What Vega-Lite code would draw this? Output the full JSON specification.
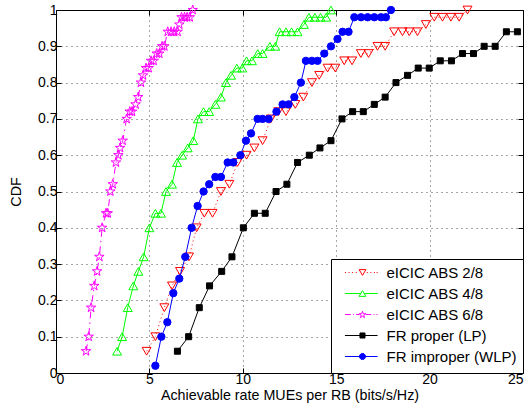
{
  "$schema": "https://vega.github.io/schema/vega-lite/v6.json",
  "width": 467,
  "height": 363,
  "autosize": {"type": "none"},
  "padding": {"left": 56, "top": 10, "right": 9, "bottom": 41},
  "background": "white",
  "config": {
    "view": {"stroke": null},
    "axis": {
      "domainColor": "#000000", "tickColor": "#000000", "labelColor": "#000000", "titleColor": "#000000",
      "labelFont": "Liberation Sans", "titleFont": "Liberation Sans", "labelFontSize": 14, "titleFontSize": 14.3,
      "titleFontWeight": "normal", "gridColor": "#000000", "gridDash": [1, 4], "gridOpacity": 0.7, "gridWidth": 1,
      "tickSize": -5, "domainWidth": 1, "tickWidth": 1
    }
  },
  "data": {"values": [
    {"s": "eICIC ABS 2/8", "x": 4.85, "y": 0.06}, {"s": "eICIC ABS 2/8", "x": 5.32, "y": 0.10}, {"s": "eICIC ABS 2/8", "x": 5.8, "y": 0.18}, {"s": "eICIC ABS 2/8", "x": 6.21, "y": 0.24}, {"s": "eICIC ABS 2/8", "x": 6.64, "y": 0.28}, {"s": "eICIC ABS 2/8", "x": 7.12, "y": 0.32}, {"s": "eICIC ABS 2/8", "x": 7.53, "y": 0.40}, {"s": "eICIC ABS 2/8", "x": 7.94, "y": 0.44}, {"s": "eICIC ABS 2/8", "x": 8.38, "y": 0.44}, {"s": "eICIC ABS 2/8", "x": 8.83, "y": 0.50}, {"s": "eICIC ABS 2/8", "x": 9.28, "y": 0.52}, {"s": "eICIC ABS 2/8", "x": 9.72, "y": 0.58}, {"s": "eICIC ABS 2/8", "x": 10.2, "y": 0.60}, {"s": "eICIC ABS 2/8", "x": 10.62, "y": 0.62}, {"s": "eICIC ABS 2/8", "x": 11.06, "y": 0.64}, {"s": "eICIC ABS 2/8", "x": 11.5, "y": 0.70}, {"s": "eICIC ABS 2/8", "x": 11.9, "y": 0.72}, {"s": "eICIC ABS 2/8", "x": 12.31, "y": 0.72}, {"s": "eICIC ABS 2/8", "x": 12.81, "y": 0.74}, {"s": "eICIC ABS 2/8", "x": 13.24, "y": 0.76}, {"s": "eICIC ABS 2/8", "x": 13.7, "y": 0.80}, {"s": "eICIC ABS 2/8", "x": 14.09, "y": 0.82}, {"s": "eICIC ABS 2/8", "x": 14.54, "y": 0.84}, {"s": "eICIC ABS 2/8", "x": 14.95, "y": 0.84}, {"s": "eICIC ABS 2/8", "x": 15.43, "y": 0.86}, {"s": "eICIC ABS 2/8", "x": 15.85, "y": 0.86}, {"s": "eICIC ABS 2/8", "x": 16.32, "y": 0.88}, {"s": "eICIC ABS 2/8", "x": 16.73, "y": 0.88}, {"s": "eICIC ABS 2/8", "x": 17.21, "y": 0.90}, {"s": "eICIC ABS 2/8", "x": 17.62, "y": 0.90}, {"s": "eICIC ABS 2/8", "x": 18.1, "y": 0.94}, {"s": "eICIC ABS 2/8", "x": 18.55, "y": 0.94}, {"s": "eICIC ABS 2/8", "x": 18.91, "y": 0.94}, {"s": "eICIC ABS 2/8", "x": 19.35, "y": 0.94}, {"s": "eICIC ABS 2/8", "x": 19.8, "y": 0.96}, {"s": "eICIC ABS 2/8", "x": 20.25, "y": 0.98}, {"s": "eICIC ABS 2/8", "x": 20.69, "y": 0.98}, {"s": "eICIC ABS 2/8", "x": 21.14, "y": 0.98}, {"s": "eICIC ABS 2/8", "x": 21.58, "y": 0.98}, {"s": "eICIC ABS 2/8", "x": 22.03, "y": 1.0},
    {"s": "eICIC ABS 4/8", "x": 3.27, "y": 0.06}, {"s": "eICIC ABS 4/8", "x": 3.54, "y": 0.10}, {"s": "eICIC ABS 4/8", "x": 3.84, "y": 0.18}, {"s": "eICIC ABS 4/8", "x": 4.14, "y": 0.24}, {"s": "eICIC ABS 4/8", "x": 4.41, "y": 0.28}, {"s": "eICIC ABS 4/8", "x": 4.69, "y": 0.32}, {"s": "eICIC ABS 4/8", "x": 5.0, "y": 0.40}, {"s": "eICIC ABS 4/8", "x": 5.32, "y": 0.44}, {"s": "eICIC ABS 4/8", "x": 5.62, "y": 0.44}, {"s": "eICIC ABS 4/8", "x": 5.89, "y": 0.50}, {"s": "eICIC ABS 4/8", "x": 6.21, "y": 0.52}, {"s": "eICIC ABS 4/8", "x": 6.48, "y": 0.58}, {"s": "eICIC ABS 4/8", "x": 6.75, "y": 0.60}, {"s": "eICIC ABS 4/8", "x": 7.05, "y": 0.62}, {"s": "eICIC ABS 4/8", "x": 7.35, "y": 0.64}, {"s": "eICIC ABS 4/8", "x": 7.6, "y": 0.70}, {"s": "eICIC ABS 4/8", "x": 7.9, "y": 0.72}, {"s": "eICIC ABS 4/8", "x": 8.2, "y": 0.72}, {"s": "eICIC ABS 4/8", "x": 8.53, "y": 0.74}, {"s": "eICIC ABS 4/8", "x": 8.83, "y": 0.76}, {"s": "eICIC ABS 4/8", "x": 9.1, "y": 0.80}, {"s": "eICIC ABS 4/8", "x": 9.37, "y": 0.82}, {"s": "eICIC ABS 4/8", "x": 9.68, "y": 0.84}, {"s": "eICIC ABS 4/8", "x": 9.97, "y": 0.84}, {"s": "eICIC ABS 4/8", "x": 10.2, "y": 0.86}, {"s": "eICIC ABS 4/8", "x": 10.49, "y": 0.86}, {"s": "eICIC ABS 4/8", "x": 10.8, "y": 0.88}, {"s": "eICIC ABS 4/8", "x": 11.06, "y": 0.88}, {"s": "eICIC ABS 4/8", "x": 11.45, "y": 0.90}, {"s": "eICIC ABS 4/8", "x": 11.74, "y": 0.90}, {"s": "eICIC ABS 4/8", "x": 11.97, "y": 0.94}, {"s": "eICIC ABS 4/8", "x": 12.31, "y": 0.94}, {"s": "eICIC ABS 4/8", "x": 12.61, "y": 0.94}, {"s": "eICIC ABS 4/8", "x": 12.93, "y": 0.94}, {"s": "eICIC ABS 4/8", "x": 13.27, "y": 0.96}, {"s": "eICIC ABS 4/8", "x": 13.54, "y": 0.98}, {"s": "eICIC ABS 4/8", "x": 13.86, "y": 0.98}, {"s": "eICIC ABS 4/8", "x": 14.16, "y": 0.98}, {"s": "eICIC ABS 4/8", "x": 14.46, "y": 0.98}, {"s": "eICIC ABS 4/8", "x": 14.72, "y": 1.0},
    {"s": "eICIC ABS 6/8", "x": 1.61, "y": 0.06}, {"s": "eICIC ABS 6/8", "x": 1.75, "y": 0.10}, {"s": "eICIC ABS 6/8", "x": 1.88, "y": 0.18}, {"s": "eICIC ABS 6/8", "x": 2.05, "y": 0.24}, {"s": "eICIC ABS 6/8", "x": 2.2, "y": 0.28}, {"s": "eICIC ABS 6/8", "x": 2.32, "y": 0.32}, {"s": "eICIC ABS 6/8", "x": 2.47, "y": 0.40}, {"s": "eICIC ABS 6/8", "x": 2.68, "y": 0.44}, {"s": "eICIC ABS 6/8", "x": 2.77, "y": 0.44}, {"s": "eICIC ABS 6/8", "x": 2.91, "y": 0.50}, {"s": "eICIC ABS 6/8", "x": 3.04, "y": 0.52}, {"s": "eICIC ABS 6/8", "x": 3.21, "y": 0.58}, {"s": "eICIC ABS 6/8", "x": 3.34, "y": 0.60}, {"s": "eICIC ABS 6/8", "x": 3.43, "y": 0.62}, {"s": "eICIC ABS 6/8", "x": 3.57, "y": 0.64}, {"s": "eICIC ABS 6/8", "x": 3.78, "y": 0.70}, {"s": "eICIC ABS 6/8", "x": 3.95, "y": 0.72}, {"s": "eICIC ABS 6/8", "x": 4.07, "y": 0.72}, {"s": "eICIC ABS 6/8", "x": 4.26, "y": 0.74}, {"s": "eICIC ABS 6/8", "x": 4.4, "y": 0.76}, {"s": "eICIC ABS 6/8", "x": 4.55, "y": 0.80}, {"s": "eICIC ABS 6/8", "x": 4.66, "y": 0.82}, {"s": "eICIC ABS 6/8", "x": 4.82, "y": 0.84}, {"s": "eICIC ABS 6/8", "x": 4.96, "y": 0.84}, {"s": "eICIC ABS 6/8", "x": 5.09, "y": 0.86}, {"s": "eICIC ABS 6/8", "x": 5.23, "y": 0.86}, {"s": "eICIC ABS 6/8", "x": 5.39, "y": 0.88}, {"s": "eICIC ABS 6/8", "x": 5.53, "y": 0.88}, {"s": "eICIC ABS 6/8", "x": 5.68, "y": 0.90}, {"s": "eICIC ABS 6/8", "x": 5.8, "y": 0.90}, {"s": "eICIC ABS 6/8", "x": 5.98, "y": 0.94}, {"s": "eICIC ABS 6/8", "x": 6.16, "y": 0.94}, {"s": "eICIC ABS 6/8", "x": 6.33, "y": 0.94}, {"s": "eICIC ABS 6/8", "x": 6.51, "y": 0.94}, {"s": "eICIC ABS 6/8", "x": 6.6, "y": 0.96}, {"s": "eICIC ABS 6/8", "x": 6.72, "y": 0.98}, {"s": "eICIC ABS 6/8", "x": 6.88, "y": 0.98}, {"s": "eICIC ABS 6/8", "x": 7.02, "y": 0.98}, {"s": "eICIC ABS 6/8", "x": 7.16, "y": 0.98}, {"s": "eICIC ABS 6/8", "x": 7.32, "y": 1.0},
    {"s": "FR proper (LP)", "x": 6.5, "y": 0.06}, {"s": "FR proper (LP)", "x": 7.1, "y": 0.10}, {"s": "FR proper (LP)", "x": 7.67, "y": 0.18}, {"s": "FR proper (LP)", "x": 8.22, "y": 0.24}, {"s": "FR proper (LP)", "x": 8.87, "y": 0.28}, {"s": "FR proper (LP)", "x": 9.42, "y": 0.32}, {"s": "FR proper (LP)", "x": 10.03, "y": 0.40}, {"s": "FR proper (LP)", "x": 10.62, "y": 0.44}, {"s": "FR proper (LP)", "x": 11.2, "y": 0.44}, {"s": "FR proper (LP)", "x": 11.78, "y": 0.50}, {"s": "FR proper (LP)", "x": 12.36, "y": 0.52}, {"s": "FR proper (LP)", "x": 12.93, "y": 0.58}, {"s": "FR proper (LP)", "x": 13.56, "y": 0.60}, {"s": "FR proper (LP)", "x": 14.13, "y": 0.62}, {"s": "FR proper (LP)", "x": 14.72, "y": 0.64}, {"s": "FR proper (LP)", "x": 15.31, "y": 0.70}, {"s": "FR proper (LP)", "x": 15.88, "y": 0.72}, {"s": "FR proper (LP)", "x": 16.45, "y": 0.72}, {"s": "FR proper (LP)", "x": 17.04, "y": 0.74}, {"s": "FR proper (LP)", "x": 17.62, "y": 0.76}, {"s": "FR proper (LP)", "x": 18.2, "y": 0.80}, {"s": "FR proper (LP)", "x": 18.82, "y": 0.82}, {"s": "FR proper (LP)", "x": 19.39, "y": 0.84}, {"s": "FR proper (LP)", "x": 19.98, "y": 0.84}, {"s": "FR proper (LP)", "x": 20.57, "y": 0.86}, {"s": "FR proper (LP)", "x": 21.17, "y": 0.86}, {"s": "FR proper (LP)", "x": 21.76, "y": 0.88}, {"s": "FR proper (LP)", "x": 22.35, "y": 0.88}, {"s": "FR proper (LP)", "x": 22.92, "y": 0.90}, {"s": "FR proper (LP)", "x": 23.51, "y": 0.90}, {"s": "FR proper (LP)", "x": 24.11, "y": 0.94}, {"s": "FR proper (LP)", "x": 24.7, "y": 0.94},
    {"s": "FR improper (WLP)", "x": 5.32, "y": 0.02}, {"s": "FR improper (WLP)", "x": 5.64, "y": 0.10}, {"s": "FR improper (WLP)", "x": 5.96, "y": 0.14}, {"s": "FR improper (WLP)", "x": 6.28, "y": 0.22}, {"s": "FR improper (WLP)", "x": 6.6, "y": 0.26}, {"s": "FR improper (WLP)", "x": 6.92, "y": 0.32}, {"s": "FR improper (WLP)", "x": 7.26, "y": 0.40}, {"s": "FR improper (WLP)", "x": 7.58, "y": 0.46}, {"s": "FR improper (WLP)", "x": 7.9, "y": 0.50}, {"s": "FR improper (WLP)", "x": 8.2, "y": 0.52}, {"s": "FR improper (WLP)", "x": 8.53, "y": 0.54}, {"s": "FR improper (WLP)", "x": 8.83, "y": 0.54}, {"s": "FR improper (WLP)", "x": 9.19, "y": 0.58}, {"s": "FR improper (WLP)", "x": 9.49, "y": 0.58}, {"s": "FR improper (WLP)", "x": 9.87, "y": 0.60}, {"s": "FR improper (WLP)", "x": 10.17, "y": 0.64}, {"s": "FR improper (WLP)", "x": 10.44, "y": 0.66}, {"s": "FR improper (WLP)", "x": 10.79, "y": 0.70}, {"s": "FR improper (WLP)", "x": 11.06, "y": 0.70}, {"s": "FR improper (WLP)", "x": 11.38, "y": 0.70}, {"s": "FR improper (WLP)", "x": 11.8, "y": 0.72}, {"s": "FR improper (WLP)", "x": 12.13, "y": 0.74}, {"s": "FR improper (WLP)", "x": 12.45, "y": 0.74}, {"s": "FR improper (WLP)", "x": 12.76, "y": 0.76}, {"s": "FR improper (WLP)", "x": 13.11, "y": 0.80}, {"s": "FR improper (WLP)", "x": 13.38, "y": 0.86}, {"s": "FR improper (WLP)", "x": 13.7, "y": 0.86}, {"s": "FR improper (WLP)", "x": 14.0, "y": 0.86}, {"s": "FR improper (WLP)", "x": 14.36, "y": 0.88}, {"s": "FR improper (WLP)", "x": 14.72, "y": 0.90}, {"s": "FR improper (WLP)", "x": 15.07, "y": 0.92}, {"s": "FR improper (WLP)", "x": 15.34, "y": 0.94}, {"s": "FR improper (WLP)", "x": 15.66, "y": 0.94}, {"s": "FR improper (WLP)", "x": 15.97, "y": 0.98}, {"s": "FR improper (WLP)", "x": 16.33, "y": 0.98}, {"s": "FR improper (WLP)", "x": 16.68, "y": 0.98}, {"s": "FR improper (WLP)", "x": 17.04, "y": 0.98}, {"s": "FR improper (WLP)", "x": 17.4, "y": 0.98}, {"s": "FR improper (WLP)", "x": 17.66, "y": 0.98}, {"s": "FR improper (WLP)", "x": 17.93, "y": 1.0}
  ]},
  "layer": [
    {
      "transform": [{"filter": "datum.s == 'eICIC ABS 2/8'"}],
      "mark": {"type": "line", "strokeWidth": 1, "stroke": "#ff0000", "strokeDash": [1, 3]},
      "encoding": {
        "x": {"field": "x", "type": "quantitative", "scale": {"domain": [0, 25], "nice": false},
          "axis": {"orient": "bottom", "values": [0, 5, 10, 15, 20, 25], "format": "~g", "grid": true, "labelPadding": 4, "title": "Achievable rate MUEs per RB (bits/s/Hz)", "titlePadding": 2}},
        "y": {"field": "y", "type": "quantitative", "scale": {"domain": [0, 1], "nice": false},
          "axis": {"orient": "left", "values": [0, 0.1, 0.2, 0.3, 0.4, 0.5, 0.6, 0.7, 0.8, 0.9, 1], "format": "~g", "grid": true, "labelPadding": 4, "title": "CDF", "titlePadding": 14}}
      }
    },
    {
      "transform": [{"filter": "datum.s == 'eICIC ABS 2/8'"}],
      "mark": {"type": "point", "opacity": 1, "strokeWidth": 1, "shape": "triangle-down", "size": 80, "stroke": "#ff0000", "fill": "transparent"},
      "encoding": {
        "x": {"field": "x", "type": "quantitative", "scale": {"domain": [0, 25], "nice": false}, "axis": null},
        "y": {"field": "y", "type": "quantitative", "scale": {"domain": [0, 1], "nice": false}, "axis": null}
      }
    },
    {
      "transform": [{"filter": "datum.s == 'eICIC ABS 4/8'"}],
      "mark": {"type": "line", "strokeWidth": 1, "stroke": "#00ff00"},
      "encoding": {
        "x": {"field": "x", "type": "quantitative", "scale": {"domain": [0, 25], "nice": false}, "axis": null},
        "y": {"field": "y", "type": "quantitative", "scale": {"domain": [0, 1], "nice": false}, "axis": null}
      }
    },
    {
      "transform": [{"filter": "datum.s == 'eICIC ABS 4/8'"}],
      "mark": {"type": "point", "opacity": 1, "strokeWidth": 1, "shape": "triangle-up", "size": 80, "stroke": "#00ff00", "fill": "transparent"},
      "encoding": {
        "x": {"field": "x", "type": "quantitative", "scale": {"domain": [0, 25], "nice": false}, "axis": null},
        "y": {"field": "y", "type": "quantitative", "scale": {"domain": [0, 1], "nice": false}, "axis": null}
      }
    },
    {
      "transform": [{"filter": "datum.s == 'eICIC ABS 6/8'"}],
      "mark": {"type": "line", "strokeWidth": 1, "stroke": "#ff00ff", "strokeDash": [7, 4, 1.5, 4]},
      "encoding": {
        "x": {"field": "x", "type": "quantitative", "scale": {"domain": [0, 25], "nice": false}, "axis": null},
        "y": {"field": "y", "type": "quantitative", "scale": {"domain": [0, 1], "nice": false}, "axis": null}
      }
    },
    {
      "transform": [{"filter": "datum.s == 'eICIC ABS 6/8'"}],
      "mark": {"type": "point", "opacity": 1, "strokeWidth": 1, "shape": "M0,-1L0.223,-0.307L0.951,-0.309L0.361,0.117L0.588,0.809L0,0.38L-0.588,0.809L-0.361,0.117L-0.951,-0.309L-0.223,-0.307Z", "size": 100, "stroke": "#ff00ff", "fill": "transparent"},
      "encoding": {
        "x": {"field": "x", "type": "quantitative", "scale": {"domain": [0, 25], "nice": false}, "axis": null},
        "y": {"field": "y", "type": "quantitative", "scale": {"domain": [0, 1], "nice": false}, "axis": null}
      }
    },
    {
      "transform": [{"filter": "datum.s == 'FR proper (LP)'"}],
      "mark": {"type": "line", "strokeWidth": 1, "stroke": "#000000"},
      "encoding": {
        "x": {"field": "x", "type": "quantitative", "scale": {"domain": [0, 25], "nice": false}, "axis": null},
        "y": {"field": "y", "type": "quantitative", "scale": {"domain": [0, 1], "nice": false}, "axis": null}
      }
    },
    {
      "transform": [{"filter": "datum.s == 'FR proper (LP)'"}],
      "mark": {"type": "point", "opacity": 1, "strokeWidth": 1, "shape": "square", "size": 36, "stroke": "#000000", "fill": "#000000"},
      "encoding": {
        "x": {"field": "x", "type": "quantitative", "scale": {"domain": [0, 25], "nice": false}, "axis": null},
        "y": {"field": "y", "type": "quantitative", "scale": {"domain": [0, 1], "nice": false}, "axis": null}
      }
    },
    {
      "transform": [{"filter": "datum.s == 'FR improper (WLP)'"}],
      "mark": {"type": "line", "strokeWidth": 1, "stroke": "#0000ff"},
      "encoding": {
        "x": {"field": "x", "type": "quantitative", "scale": {"domain": [0, 25], "nice": false}, "axis": null},
        "y": {"field": "y", "type": "quantitative", "scale": {"domain": [0, 1], "nice": false}, "axis": null}
      }
    },
    {
      "transform": [{"filter": "datum.s == 'FR improper (WLP)'"}],
      "mark": {"type": "point", "opacity": 1, "strokeWidth": 1, "shape": "circle", "size": 54, "stroke": "#0000ff", "fill": "#0000ff"},
      "encoding": {
        "x": {"field": "x", "type": "quantitative", "scale": {"domain": [0, 25], "nice": false}, "axis": null},
        "y": {"field": "y", "type": "quantitative", "scale": {"domain": [0, 1], "nice": false}, "axis": null}
      }
    },
    {
      "transform": [{"filter": "datum.y > 5"}],
      "mark": {"type": "point", "opacity": 1, "size": 81, "strokeWidth": 1},
      "encoding": {
        "x": {"field": "x", "type": "quantitative", "scale": {"domain": [0, 25], "nice": false},
          "axis": {"orient": "top", "values": [0, 5, 10, 15, 20, 25], "labels": false, "title": null, "grid": false}},
        "y": {"field": "y", "type": "quantitative", "scale": {"domain": [0, 1], "nice": false},
          "axis": {"orient": "right", "values": [0, 0.1, 0.2, 0.3, 0.4, 0.5, 0.6, 0.7, 0.8, 0.9, 1], "labels": false, "title": null, "grid": false}},
        "shape": {"field": "s", "type": "nominal",
          "scale": {"domain": ["eICIC ABS 2/8", "eICIC ABS 4/8", "eICIC ABS 6/8", "FR proper (LP)", "FR improper (WLP)"],
            "range": [
              "M0,-1.68M0,1.68M-3.9,0H-3.68M-3.1,0H-2.88M-2.3,0H-2.08M-1.5,0H-1.28M0.95,0H1.17M1.75,0H1.97M2.55,0H2.77M3.13,0H3.35M-0.75,-0.64L0.75,-0.64L0,0.64Z",
              "M0,-1.68M0,1.68M-3.9,0H-0.38M0.38,0H3.35M0,-0.64L0.75,0.64L-0.75,0.64Z",
              "M0,-1.68M0,1.68M-3.9,0H-2.6M-2.1,0H-1.9M-1.4,0H-0.75M0.75,0H1.95M2.45,0H2.65M3.1,0H3.35M0,-0.71L0.176,-0.167L0.749,-0.168L0.284,0.167L0.463,0.712L0,0.374L-0.463,0.712L-0.284,0.167L-0.749,-0.168L-0.176,-0.167Z",
              "M0,-1.68M0,1.68M-3.9,0H3.35M-0.56,-0.56H0.56V0.56H-0.56Z",
              "M0,-1.68M0,1.68M-3.9,0H3.35M0.68,0L0.584,0.338L0.338,0.584L0,0.68L-0.338,0.584L-0.584,0.338L-0.68,0L-0.584,-0.338L-0.338,-0.584L0,-0.68L0.338,-0.584L0.584,-0.338Z"
            ]},
          "legend": {
            "title": null, "orient": "bottom-right", "offset": 0, "direction": "vertical", "columns": 1,
            "symbolSize": 81, "symbolOffset": 18, "labelOffset": 16.5, "padding": 6, "rowPadding": 0,
            "strokeColor": "#000000", "fillColor": "#ffffff", "cornerRadius": 0,
            "labelFont": "Liberation Sans", "labelFontSize": 15, "labelColor": "#000000", "labelLimit": 300,
            "symbolStrokeWidth": 1
          }
        },
        "stroke": {"field": "s", "type": "nominal",
          "scale": {"domain": ["eICIC ABS 2/8", "eICIC ABS 4/8", "eICIC ABS 6/8", "FR proper (LP)", "FR improper (WLP)"], "range": ["#ff0000", "#00ff00", "#ff00ff", "#000000", "#0000ff"]},
          "legend": {
            "title": null, "orient": "bottom-right", "offset": 0, "direction": "vertical", "columns": 1,
            "symbolSize": 81, "symbolOffset": 18, "labelOffset": 16.5, "padding": 6, "rowPadding": 0,
            "strokeColor": "#000000", "fillColor": "#ffffff", "cornerRadius": 0,
            "labelFont": "Liberation Sans", "labelFontSize": 15, "labelColor": "#000000", "labelLimit": 300,
            "symbolStrokeWidth": 1
          }},
        "fill": {"field": "s", "type": "nominal",
          "scale": {"domain": ["eICIC ABS 2/8", "eICIC ABS 4/8", "eICIC ABS 6/8", "FR proper (LP)", "FR improper (WLP)"], "range": ["transparent", "transparent", "transparent", "#000000", "#0000ff"]},
          "legend": {
            "title": null, "orient": "bottom-right", "offset": 0, "direction": "vertical", "columns": 1,
            "symbolSize": 81, "symbolOffset": 18, "labelOffset": 16.5, "padding": 6, "rowPadding": 0,
            "strokeColor": "#000000", "fillColor": "#ffffff", "cornerRadius": 0,
            "labelFont": "Liberation Sans", "labelFontSize": 15, "labelColor": "#000000", "labelLimit": 300,
            "symbolStrokeWidth": 1
          }}
      }
    }
  ],
  "resolve": {"axis": {"x": "independent", "y": "independent"}}
}
